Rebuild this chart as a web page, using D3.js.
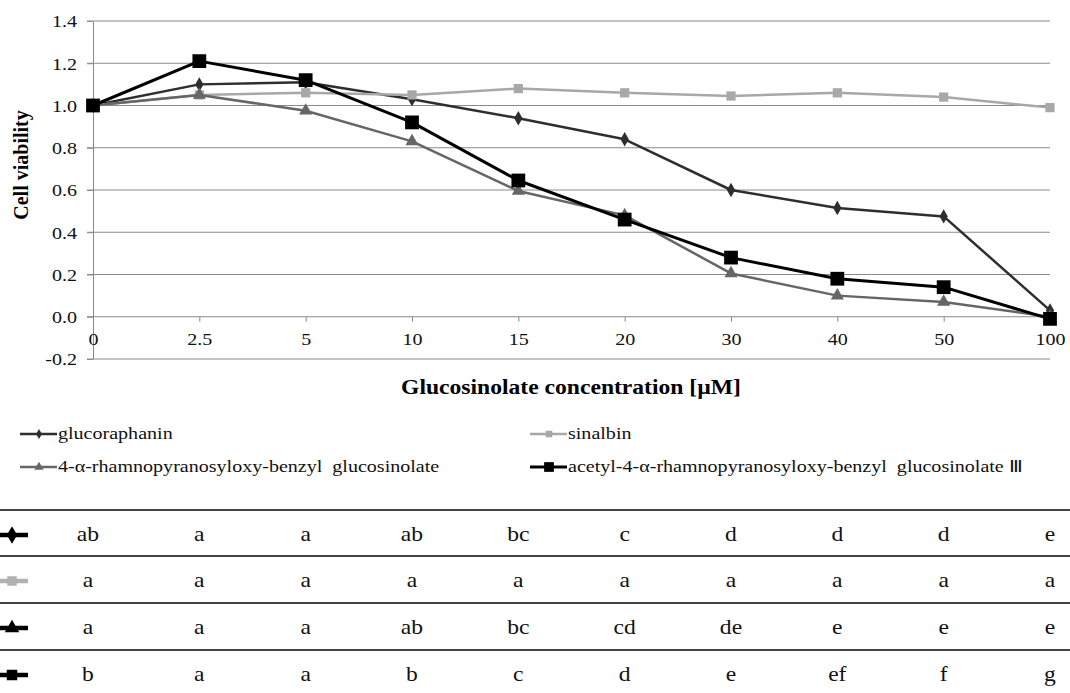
<!DOCTYPE html>
<html>
<head>
<meta charset="utf-8">
<script src="https://cdn.jsdelivr.net/npm/d3@7"></script>
<style>
  body { margin: 0; background: #fff; }
</style>
</head>
<body>
<svg id="chart" width="1070" height="693"></svg>
<script>
const concentrations = ["0", "2.5", "5", "10", "15", "20", "30", "40", "50", "100"];
const yTicks = [-0.2, 0, 0.2, 0.4, 0.6, 0.8, 1.0, 1.2, 1.4];

const glucoraphanin = [1.00, 1.10, 1.11, 1.03, 0.94, 0.84, 0.60, 0.515, 0.475, 0.03];
const sinalbin = [1.00, 1.05, 1.06, 1.05, 1.08, 1.06, 1.045, 1.06, 1.04, 0.99];
const rhamno = [1.00, 1.05, 0.975, 0.83, 0.595, 0.48, 0.205, 0.10, 0.07, 0.00];
const acetyl = [1.00, 1.21, 1.12, 0.92, 0.645, 0.46, 0.28, 0.18, 0.14, -0.01];

const seriesNames = ["glucoraphanin", "sinalbin", "4-\u03b1-rhamnopyranosyloxy-benzyl  glucosinolate", "acetyl-4-\u03b1-rhamnopyranosyloxy-benzyl  glucosinolate \u2162"];

const letters = [
  ["ab", "a", "a", "ab", "bc", "c", "d", "d", "d", "e"],
  ["a", "a", "a", "a", "a", "a", "a", "a", "a", "a"],
  ["a", "a", "a", "ab", "bc", "cd", "de", "e", "e", "e"],
  ["b", "a", "a", "b", "c", "d", "e", "ef", "f", "g"]
];

const FONT = "'Liberation Serif', 'Times New Roman', serif";
const SX = 1.18; // the original figure is stretched sideways

const series = [
  { name: seriesNames[0], values: glucoraphanin, color: "#2e2e2e", width: 2.5, marker: "diamond", size: 60 },
  { name: seriesNames[1], values: sinalbin, color: "#a8a8a8", width: 2.5, marker: "square", size: 85 },
  { name: seriesNames[2], values: rhamno, color: "#666", width: 2.5, marker: "triangle", size: 75 },
  { name: seriesNames[3], values: acetyl, color: "#000", width: 3, marker: "square", size: 190 }
];

const svg = d3.select("#chart");

const x = d3.scalePoint().domain(concentrations).range([93, 1050]);
const y = d3.scaleLinear().domain([-0.2, 1.4]).range([359, 21]);

const symbols = { diamond: d3.symbolDiamond, square: d3.symbolSquare, triangle: d3.symbolTriangle };

// widen text horizontally around its x position
function stretch(sel) {
  sel.each(function() {
    const t = d3.select(this);
    const tx = +t.attr("x") || 0;
    t.attr("x", tx / SX).attr("transform", `scale(${SX},1)`);
  });
}

// grid
svg.append("g")
  .selectAll("line")
  .data(yTicks)
  .join("line")
  .attr("x1", 87).attr("x2", 1050)
  .attr("y1", d => y(d)).attr("y2", d => y(d))
  .attr("stroke", "#8a8a8a")
  .attr("stroke-width", 1);

// y axis
const yAxis = svg.append("g")
  .attr("transform", "translate(93,0)")
  .call(d3.axisLeft(y).tickValues(yTicks).tickFormat(d => d3.format(".1f")(d).replace("\u2212", "-")).tickSize(6).tickSizeOuter(0));
yAxis.attr("font-family", null);
yAxis.select(".domain").attr("stroke", "#8a8a8a");
yAxis.selectAll(".tick line").attr("stroke", "#8a8a8a");
yAxis.selectAll("text").attr("font-size", 17).style("font-family", FONT).attr("fill", "#111").attr("x", -16).attr("dy", "0.34em").call(stretch);

// x axis at 0
const xAxis = svg.append("g")
  .attr("transform", `translate(0,${y(0)})`)
  .call(d3.axisBottom(x).tickSize(5).tickSizeOuter(0));
xAxis.attr("font-family", null);
xAxis.select(".domain").remove();
xAxis.selectAll(".tick line").attr("stroke", "#8a8a8a");
xAxis.selectAll("text").attr("font-size", 17).style("font-family", FONT).attr("fill", "#111").attr("y", 16).call(stretch);

// axis titles
svg.append("text")
  .attr("transform", "translate(28,165) rotate(-90)")
  .attr("text-anchor", "middle")
  .attr("font-size", 20).attr("font-weight", "bold")
  .style("font-family", FONT)
  .text("Cell viability");

svg.append("text")
  .attr("x", 571).attr("y", 394)
  .attr("text-anchor", "middle")
  .attr("font-size", 20).attr("font-weight", "bold")
  .style("font-family", FONT)
  .text("Glucosinolate concentration [\u00b5M]")
  .call(stretch);

// lines
const line = d3.line().x((d, i) => x(concentrations[i])).y(d => y(d));

series.forEach(s => {
  const g = svg.append("g");
  g.append("path")
    .datum(s.values)
    .attr("d", line)
    .attr("fill", "none")
    .attr("stroke", s.color)
    .attr("stroke-width", s.width)
    .attr("stroke-linejoin", "round");
  g.selectAll("path.m")
    .data(s.values)
    .join("path")
    .attr("class", "m")
    .attr("transform", (d, i) => `translate(${x(concentrations[i])},${y(d)})`)
    .attr("d", d3.symbol().type(symbols[s.marker]).size(s.size))
    .attr("fill", s.color);
});

// legend
const legendPos = [[20, 434], [530, 434], [20, 467], [530, 467]];
series.forEach((s, i) => {
  const [lx, ly] = legendPos[i];
  const g = svg.append("g").attr("transform", `translate(${lx},${ly})`);
  g.append("line").attr("x1", 0).attr("x2", 37).attr("y1", 0).attr("y2", 0)
    .attr("stroke", s.color).attr("stroke-width", s.width);
  g.append("path").attr("transform", "translate(19,0)")
    .attr("d", d3.symbol().type(symbols[s.marker]).size(s.size * 0.5))
    .attr("fill", s.color);
  g.append("text").attr("x", 38).attr("y", 5)
    .attr("font-size", 17).attr("fill", "#111")
    .style("font-family", FONT)
    .style("white-space", "pre")
    .text(s.name)
    .call(stretch);
});

// table
const rowTop = [510, 556, 603, 650];
svg.append("g").selectAll("line")
  .data(rowTop)
  .join("line")
  .attr("x1", 0).attr("x2", 1070)
  .attr("y1", d => d).attr("y2", d => d)
  .attr("stroke", "#444").attr("stroke-width", 2);

const tableIconColors = ["#000", "#b0b0b0", "#000", "#000"];
letters.forEach((row, r) => {
  const cy = rowTop[r] + 25;
  const s = series[r];
  const g = svg.append("g");
  g.append("line").attr("x1", 0).attr("x2", 28).attr("y1", cy).attr("y2", cy)
    .attr("stroke", tableIconColors[r]).attr("stroke-width", 4.5);
  g.append("path").attr("transform", `translate(12,${cy})`)
    .attr("d", d3.symbol().type(symbols[s.marker]).size(r === 3 ? 110 : 90))
    .attr("fill", tableIconColors[r]);
  g.selectAll("text")
    .data(row)
    .join("text")
    .attr("x", (d, i) => x(concentrations[i]) - (i === 0 ? 5 : 0))
    .attr("y", cy + 6)
    .attr("text-anchor", "middle")
    .attr("font-size", 20)
    .attr("fill", "#111")
    .style("font-family", FONT)
    .text(d => d)
    .call(stretch);
});
</script>
</body>
</html>
